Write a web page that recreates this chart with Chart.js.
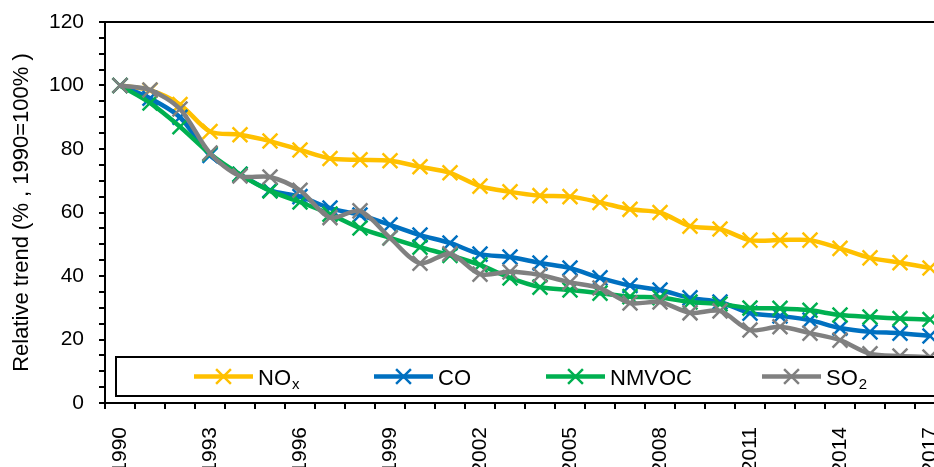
<!DOCTYPE html>
<html>
<head>
<meta charset="utf-8">
<script src="https://cdn.jsdelivr.net/npm/chart.js@4.4.1/dist/chart.umd.min.js"></script>
<style>
    html, body { margin: 0; padding: 0; background: #fff; overflow: hidden; }
    #wrap { width: 958px; height: 467px; }
</style>
</head>
<body>
<div id="wrap"><canvas id="trendChart" width="958" height="467"></canvas></div>
<script>
// Years on the x axis and the ones that get a label
const years = ['1990', '1991', '1992', '1993', '1994', '1995', '1996', '1997', '1998', '1999',
               '2000', '2001', '2002', '2003', '2004', '2005', '2006', '2007', '2008', '2009',
               '2010', '2011', '2012', '2013', '2014', '2015', '2016', '2017'];
const xTickLabels = ['1990', '1993', '1996', '1999', '2002', '2005', '2008', '2011', '2014', '2017'];
const yTickLabels = [0, 20, 40, 60, 80, 100, 120];

// Relative trend, 1990 = 100%
const noxValues = [100, 98.5, 94, 85.5, 84.5, 82.5, 79.7, 77, 76.6, 76.3,
                   74.4, 72.5, 68.3, 66.5, 65.3, 65, 63.2, 61, 60, 55.7,
                   54.8, 51.3, 51.3, 51.3, 48.7, 45.7, 44.2, 42.5];
const coValues = [100, 96, 90, 78, 72, 67, 65, 61.4, 59.2, 56.1,
                  52.9, 50.4, 46.9, 46, 44.1, 42.5, 39.4, 37, 35.6, 33.1,
                  31.8, 28.3, 27.4, 26.1, 23.6, 22.4, 22, 21.1];
const nmvocValues = [100, 94.5, 87, 78.5, 72, 66.8, 63.3, 59.5, 55.1, 52,
                     49.1, 46.5, 43.5, 39.4, 36.5, 35.6, 34.6, 33.5, 33.2, 31.8,
                     31.2, 29.9, 29.8, 29.2, 27.7, 27.1, 26.6, 26.3];
const so2Values = [100, 98.6, 92.6, 78.7, 71.5, 71.2, 67, 58.4, 60.5, 52,
                   44, 47, 40.6, 41.3, 40.3, 38, 36.2, 31.5, 31.8, 28.4,
                   29, 23, 24, 22, 19.8, 15.5, 14.8, 14.5];

const FONT = "'Liberation Sans Narrow', 'Arial Narrow', 'Liberation Sans', Arial, sans-serif";
const MARKER = 10.5;

function series(label, data, color, order) {
    return {
        label: label,
        data: data,
        borderColor: color,
        backgroundColor: color,
        borderWidth: 4.5,
        tension: 0.3,
        pointStyle: 'crossRot',
        pointRadius: MARKER,
        pointBorderWidth: 2.5,
        pointBorderColor: color,
        order: order
    };
}

// legend box drawn inside the plot, like the spreadsheet original
const legendBox = {
    id: 'legendBox',
    afterDatasetsDraw(chart) {
        const ctx = chart.ctx;
        const area = chart.chartArea;
        const top = area.bottom - 46, bottom = area.bottom - 7;
        const left = area.left + 11, right = area.right - 2;
        const midY = (top + bottom) / 2;
        const starts = [194, 374, 546, 762];
        const subs = { 'ₓ': 'x', '₂': '2' };

        ctx.save();
        ctx.fillStyle = '#fff';
        ctx.fillRect(left, top, right - left, bottom - top);
        ctx.lineWidth = 2;
        ctx.strokeStyle = '#000';
        ctx.strokeRect(left, top, right - left, bottom - top);

        chart.data.datasets.forEach((ds, i) => {
            const x0 = starts[i];
            ctx.strokeStyle = ds.borderColor;
            ctx.lineWidth = 4.5;
            ctx.beginPath();
            ctx.moveTo(x0, midY);
            ctx.lineTo(x0 + 59, midY);
            ctx.stroke();
            ctx.lineWidth = 2.5;
            const cx = x0 + 29.5, r = MARKER * Math.SQRT1_2;
            ctx.beginPath();
            ctx.moveTo(cx - r, midY - r); ctx.lineTo(cx + r, midY + r);
            ctx.moveTo(cx + r, midY - r); ctx.lineTo(cx - r, midY + r);
            ctx.stroke();

            // label text with a subscript tail
            let x = x0 + 64;
            ctx.fillStyle = '#000';
            ctx.textBaseline = 'alphabetic';
            ctx.textAlign = 'left';
            const base = midY + 8;
            for (const ch of ds.label) {
                if (subs[ch]) {
                    ctx.font = '15px ' + FONT;
                    ctx.fillText(subs[ch], x + 1, base + 4);
                    x += ctx.measureText(subs[ch]).width + 1;
                } else {
                    ctx.font = '22px ' + FONT;
                    ctx.fillText(ch, x, base);
                    x += ctx.measureText(ch).width;
                }
            }
        });
        ctx.restore();
    },
    afterDraw(chart) {
        // top border of the plot area
        const ctx = chart.ctx;
        const area = chart.chartArea;
        ctx.save();
        ctx.strokeStyle = '#000';
        ctx.lineWidth = 2;
        ctx.beginPath();
        ctx.moveTo(area.left - 1, area.top);
        ctx.lineTo(chart.width, area.top);
        ctx.stroke();
        ctx.restore();
    }
};

document.addEventListener('DOMContentLoaded', function () {
    const ctx = document.getElementById('trendChart').getContext('2d');
    new Chart(ctx, {
        type: 'line',
        data: {
            labels: years,
            datasets: [
                series('NOₓ', noxValues, '#FFC000', 3),
                series('CO', coValues, '#0070C0', 2),
                series('NMVOC', nmvocValues, '#00B050', 1),
                series('SO₂', so2Values, '#808080', 0)
            ]
        },
        options: {
            responsive: false,
            animation: false,
            devicePixelRatio: 1,
            layout: { padding: { left: 0, right: 2, top: 22, bottom: 0 } },
            plugins: {
                legend: { display: false },
                tooltip: { enabled: false }
            },
            scales: {
                x: {
                    type: 'category',
                    offset: true,
                    afterFit: function (scale) {
                        scale.height = 64;
                        scale.paddingLeft = 0;
                        scale.paddingRight = 0;
                    },
                    grid: {
                        offset: true,
                        drawOnChartArea: false,
                        drawTicks: true,
                        tickLength: 6,
                        color: '#000',
                        lineWidth: 2
                    },
                    border: { color: '#000', width: 2 },
                    ticks: {
                        autoSkip: false,
                        minRotation: 90,
                        maxRotation: 90,
                        padding: 18,
                        color: '#000',
                        font: { family: FONT, size: 21 },
                        callback: function (val, i) {
                            return xTickLabels.includes(years[i]) ? years[i] : '';
                        }
                    }
                },
                y: {
                    min: 0,
                    max: 120,
                    afterFit: function (scale) {
                        scale.width = 105;
                        scale.paddingTop = 0;
                        scale.paddingBottom = 0;
                    },
                    grid: {
                        drawOnChartArea: false,
                        drawTicks: true,
                        tickLength: 6,
                        color: '#000',
                        lineWidth: 2
                    },
                    border: { color: '#000', width: 2 },
                    ticks: {
                        stepSize: 5,
                        autoSkip: false,
                        padding: 15,
                        color: '#000',
                        font: { family: FONT, size: 21 },
                        callback: function (val) {
                            return yTickLabels.includes(val) ? val : '';
                        }
                    },
                    title: {
                        display: true,
                        text: 'Relative trend (% , 1990=100% )',
                        color: '#000',
                        font: { family: FONT, size: 22 },
                        padding: { top: 9, bottom: 0 }
                    }
                }
            }
        },
        plugins: [legendBox]
    });
});
</script>
</body>
</html>
